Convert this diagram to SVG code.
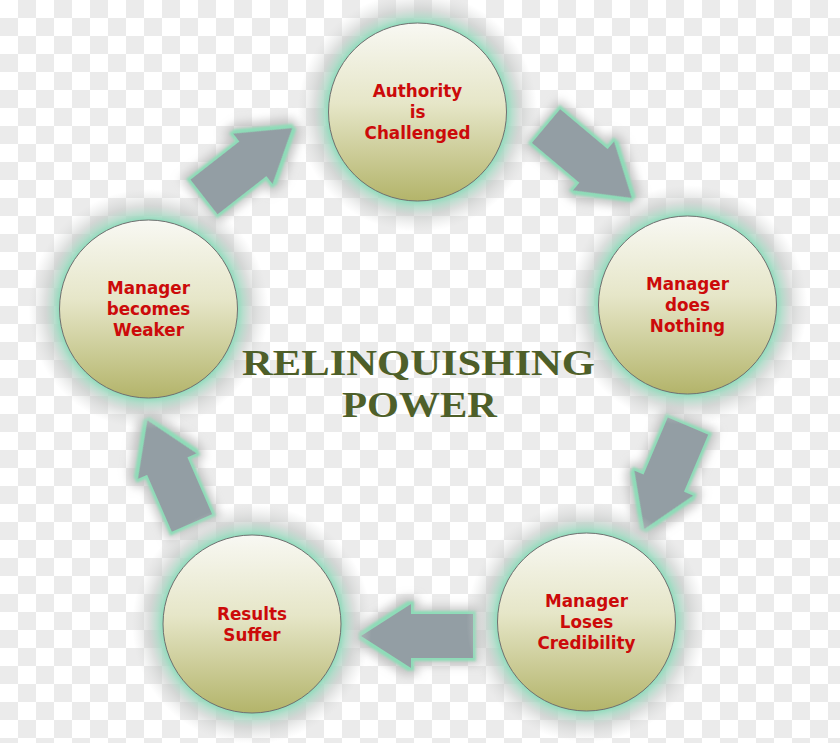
<svg xmlns="http://www.w3.org/2000/svg" width="840" height="743" viewBox="0 0 840 743">
<defs>
<pattern id="chk" x="0" y="0" width="36" height="36" patternUnits="userSpaceOnUse">
<rect width="36" height="36" fill="#ffffff"/>
<rect x="18" y="0" width="18" height="18" fill="#ebebeb"/>
<rect x="0" y="18" width="18" height="18" fill="#ebebeb"/>
</pattern>
<linearGradient id="ball" x1="0" y1="0" x2="0" y2="1">
<stop offset="0" stop-color="#f8f8f3"/>
<stop offset="0.45" stop-color="#e6e6c8"/>
<stop offset="1" stop-color="#b3b46a"/>
</linearGradient>
<radialGradient id="halo" cx="0.5" cy="0.5" r="0.5">
<stop offset="0.74" stop-color="#8fdcbc" stop-opacity="1"/>
<stop offset="0.79" stop-color="#a8d6c2" stop-opacity="0.8"/>
<stop offset="0.86" stop-color="#c2c6c4" stop-opacity="0.55"/>
<stop offset="1" stop-color="#d8d8d8" stop-opacity="0"/>
</radialGradient>
<filter id="glow" x="-40%" y="-40%" width="180%" height="180%">
<feMorphology in="SourceAlpha" operator="dilate" radius="7" result="d2"/>
<feGaussianBlur in="d2" stdDeviation="5" result="gb"/>
<feFlood flood-color="#b4b4b4" flood-opacity="0.75"/>
<feComposite in2="gb" operator="in" result="g"/>
<feMorphology in="SourceAlpha" operator="dilate" radius="2.5" result="d"/>
<feGaussianBlur in="d" stdDeviation="1.2" result="db"/>
<feFlood flood-color="#8edcb8"/>
<feComposite in2="db" operator="in" result="m"/>
<feMerge><feMergeNode in="g"/><feMergeNode in="m"/><feMergeNode in="SourceGraphic"/></feMerge>
</filter>
<path id="arr" d="M0,-22 L62,-22 L62,-32 L112,0 L62,32 L62,22 L0,22 Z"/>
</defs>
<style>
.halo{fill:url(#halo)}
.ball{fill:url(#ball);stroke:#707070;stroke-width:1}
.lbl{font-family:"DejaVu Sans",Verdana,sans-serif;font-weight:bold;font-size:16.8px;fill:#cc0a0a;text-anchor:middle}
.ttl{font-family:"Liberation Serif","Times New Roman",serif;font-weight:bold;font-size:36px;fill:#4e5f29;text-anchor:middle}
.arrow{fill:#939ea4;filter:url(#glow)}
</style>
<rect width="840" height="743" fill="url(#chk)"/>
<g id="connectors">
<use href="#arr" class="arrow" transform="translate(204,197) rotate(-38)"/>
<use href="#arr" class="arrow" transform="translate(546,126) rotate(40)"/>
<use href="#arr" class="arrow" transform="translate(688,426) rotate(113)"/>
<use href="#arr" class="arrow" transform="translate(473,636) rotate(180)"/>
<use href="#arr" class="arrow" transform="translate(192,523) rotate(246.5)"/>
</g>
<g id="n1">
<circle class="halo" cx="417.5" cy="112" r="120"/>
<circle class="ball" cx="417.5" cy="112" r="89"/>
<text class="lbl" x="417.5" y="97">Authority</text>
<text class="lbl" x="417.5" y="118">is</text>
<text class="lbl" x="417.5" y="139">Challenged</text>
</g>
<g id="n2">
<circle class="halo" cx="687.5" cy="305" r="120"/>
<circle class="ball" cx="687.5" cy="305" r="89"/>
<text class="lbl" x="687.5" y="290">Manager</text>
<text class="lbl" x="687.5" y="311">does</text>
<text class="lbl" x="687.5" y="332">Nothing</text>
</g>
<g id="n3">
<circle class="halo" cx="586.5" cy="622" r="120"/>
<circle class="ball" cx="586.5" cy="622" r="89"/>
<text class="lbl" x="586.5" y="607">Manager</text>
<text class="lbl" x="586.5" y="628">Loses</text>
<text class="lbl" x="586.5" y="649">Credibility</text>
</g>
<g id="n4">
<circle class="halo" cx="252" cy="624" r="120"/>
<circle class="ball" cx="252" cy="624" r="89"/>
<text class="lbl" x="252" y="620">Results</text>
<text class="lbl" x="252" y="641">Suffer</text>
</g>
<g id="n5">
<circle class="halo" cx="148.5" cy="309" r="120"/>
<circle class="ball" cx="148.5" cy="309" r="89"/>
<text class="lbl" x="148.5" y="294">Manager</text>
<text class="lbl" x="148.5" y="315">becomes</text>
<text class="lbl" x="148.5" y="336">Weaker</text>
</g>
<g id="title">
<text class="ttl" x="418.5" y="375" textLength="353" lengthAdjust="spacingAndGlyphs">RELINQUISHING</text>
<text class="ttl" x="419.5" y="417" textLength="155" lengthAdjust="spacingAndGlyphs">POWER</text>
</g>
</svg>
